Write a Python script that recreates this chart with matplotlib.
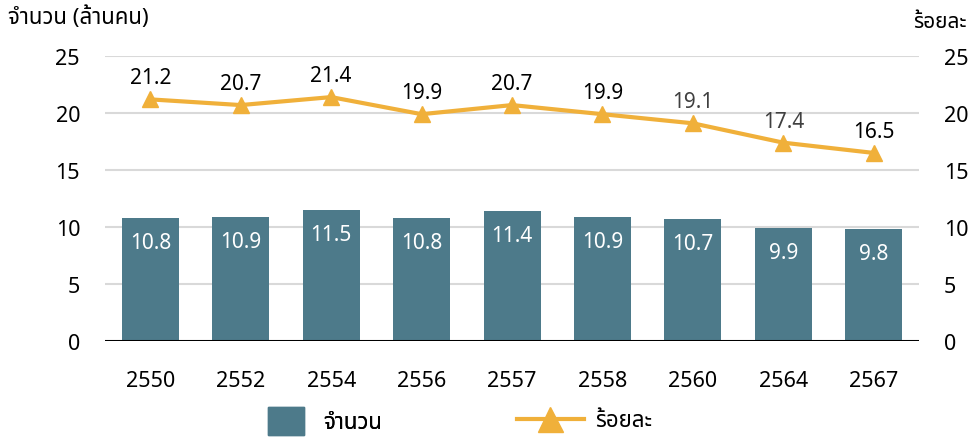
import matplotlib
matplotlib.use("Agg")
import matplotlib.pyplot as plt
import numpy as np
from matplotlib.lines import Line2D
from matplotlib.patches import Patch

plt.rcParams['font.family'] = ['Noto Sans Thai', 'DejaVu Sans']

# data
years = ["2550", "2552", "2554", "2556", "2557", "2558", "2560", "2564", "2567"]
count_m = [10.8, 10.9, 11.5, 10.8, 11.4, 10.9, 10.7, 9.9, 9.8]
percent = [21.2, 20.7, 21.4, 19.9, 20.7, 19.9, 19.1, 17.4, 16.5]
pct_label_colors = ["black"] * 6 + ["#404040", "#404040", "black"]

bar_color = "#4D7A8A"
line_color = "#F0B03A"

fig = plt.figure(figsize=(9.73, 4.39), dpi=100)
ax = fig.add_axes([0.108, 0.221, 0.8365, 0.649])
ax2 = ax.twinx()

x = np.arange(len(years))
ax.bar(x, count_m, width=0.63, color=bar_color, zorder=2)
for xi, v in zip(x, count_m):
    ax.annotate(f"{v}", (xi, v), xytext=(0, -10), textcoords="offset points",
                ha="center", va="top", color="white", fontsize=15, zorder=3)

ax2.plot(x, percent, color=line_color, lw=3, marker="^", ms=12, zorder=4)
for xi, v, c in zip(x, percent, pct_label_colors):
    ax2.annotate(f"{v}", (xi, v), xytext=(0, 8), textcoords="offset points",
                 ha="center", va="bottom", fontsize=15, color=c)

for a in (ax, ax2):
    a.set_ylim(0, 25)
    a.set_yticks([0, 5, 10, 15, 20, 25])
    a.tick_params(axis="y", length=0, labelsize=15.5, pad=18)
    for s in a.spines.values():
        s.set_visible(False)
    for lb in a.get_yticklabels():
        lb.set_fontweight("medium")
ax.set_xlim(-0.5, len(years) - 0.5)
ax.set_xticks(x)
ax.set_xticklabels(years, fontweight="medium")
ax.tick_params(axis="x", length=0, labelsize=15.5, pad=21)
ax.grid(axis="y", color="#D9D9D9", lw=1.5, zorder=0)
ax.set_axisbelow(True)
ax.axhline(0, color="black", lw=2.2, zorder=5)
ax2.set_zorder(ax.get_zorder() + 1)
ax2.patch.set_visible(False)

fig.text(8 / 973, 1 - 18 / 439, "จำนวน (ล้านคน)", fontsize=16, fontweight="bold",
         ha="left", va="center")
fig.text(967 / 973, 1 - 22 / 439, "ร้อยละ", fontsize=15, fontweight="bold",
         ha="right", va="center")

leg1 = fig.legend([Patch(color=bar_color)], ["จำนวน"], loc="center left",
                  bbox_to_anchor=(268 / 973, 1 - 422 / 439), frameon=False,
                  prop={"size": 16, "weight": "bold"}, handlelength=1.6,
                  handleheight=1.6, handletextpad=0.9, borderpad=0, borderaxespad=0)
leg2 = fig.legend([Line2D([0], [0], color=line_color, lw=3, marker="^", ms=18)],
                  ["ร้อยละ"], loc="center left",
                  bbox_to_anchor=(517 / 973, 1 - 422 / 439), frameon=False,
                  prop={"size": 16, "weight": "bold"}, handlelength=3.0,
                  handletextpad=0.5, borderpad=0, borderaxespad=0)
fig.add_artist(leg1)

fig.savefig("out.png", dpi=100)
